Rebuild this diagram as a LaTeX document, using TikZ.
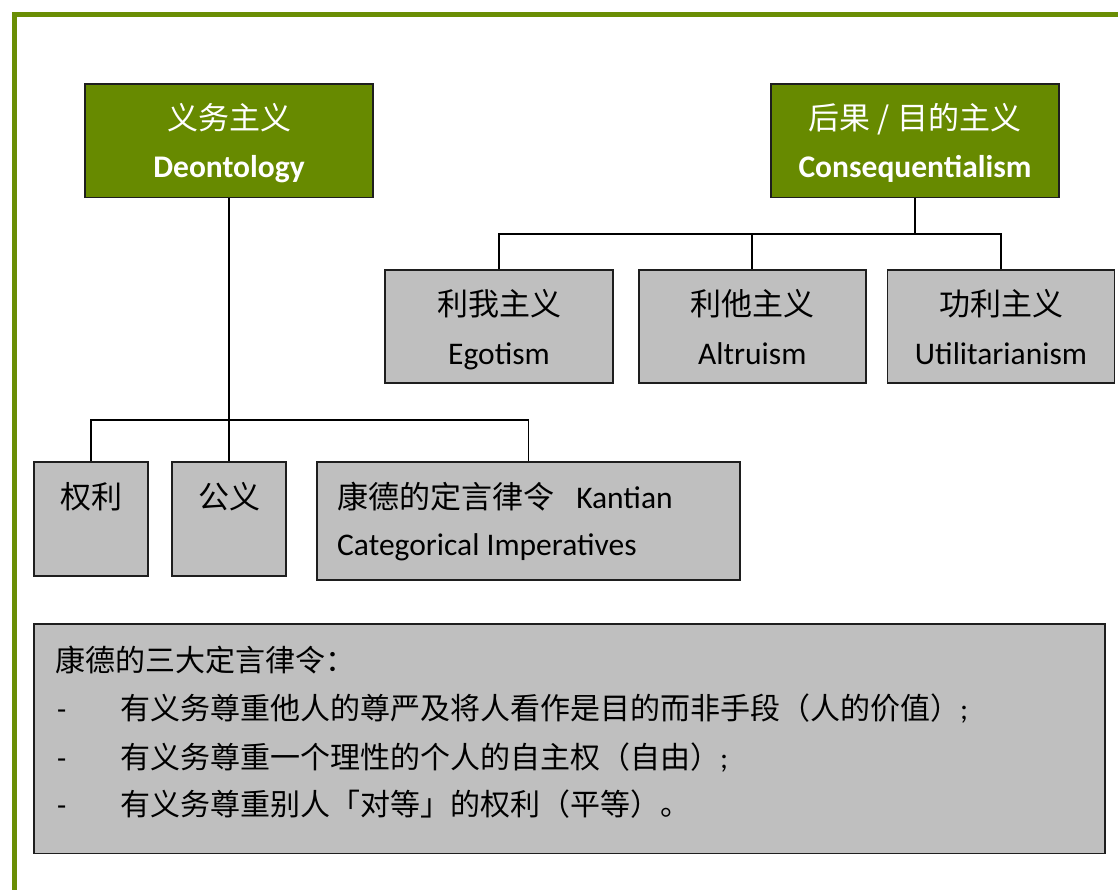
\documentclass[tikz,border=0pt]{standalone}
\usepackage{fontspec}
\setmainfont{Carlito}
\newfontfamily\cjk{Noto Sans CJK SC}
\newfontfamily\latn{Carlito}
\definecolor{olive}{HTML}{678A00}
\definecolor{frameg}{HTML}{6A8E04}
\definecolor{boxgrey}{HTML}{BFBFBF}
\definecolor{edge}{HTML}{1E1E1E}
\tikzset{
  gbox/.style={draw=edge, line width=1.6pt, fill=olive, rectangle, inner sep=0pt},
  greybox/.style={draw=edge, line width=1.6pt, fill=boxgrey, rectangle, inner sep=0pt},
  conn/.style={draw=black, line width=1.7pt},
  cjktxt/.style={font=\cjk\fontsize{31}{37}\selectfont, anchor=base, inner sep=0pt},
  lattxt/.style={font=\fontsize{31.5}{37}\selectfont, anchor=base, inner sep=0pt},
  boldtxt/.style={font=\bfseries\fontsize{31.5}{37}\selectfont, anchor=base, inner sep=0pt, text=white},
  dashtxt/.style={font=\fontsize{30}{36}\selectfont, anchor=base west, inner sep=0pt},
  bodytxt/.style={font=\cjk\fontsize{30}{36}\selectfont, anchor=base west, inner sep=0pt},
}
\begin{document}
\begin{tikzpicture}[x=1pt,y=-1pt]
\useasboundingbox (0,0) rectangle (1118,890);
\begin{scope}
\clip (0,0) rectangle (1118,890);
\draw[frameg, line width=5pt, line join=miter] (14.5,900) -- (14.5,14.5) -- (1130,14.5);
\end{scope}

% top boxes
\node[gbox, minimum width=288pt, minimum height=113.5pt] (deo) at (229,140.75) {};
\node[gbox, minimum width=288pt, minimum height=113.5pt] (cons) at (915,140.75) {};
\node[cjktxt, text=white] (deoc) at (229,129.5) {义务主义};
\node[boldtxt] (deol) at (229,178) {Deontology};
\node[cjktxt, text=white] (consc) at (915,129.5) {后果 / 目的主义};
\node[boldtxt] (consl) at (915,178) {Consequentialism};

% consequentialism children
\node[greybox, minimum width=228pt, minimum height=113.5pt] (ego) at (499,326.5) {};
\node[greybox, minimum width=227pt, minimum height=113.5pt] (alt) at (752.3,326.5) {};
\node[greybox, minimum width=227pt, minimum height=113.5pt] (util) at (1001,326.5) {};
\node[cjktxt] (egoc) at (499,316) {利我主义};
\node[lattxt] (egol) at (499,364) {Egotism};
\node[cjktxt] (altc) at (752.3,316) {利他主义};
\node[lattxt] (altl) at (752.3,364) {Altruism};
\node[cjktxt] (utilc) at (1001,316) {功利主义};
\node[lattxt] (utill) at (1001,364) {Utilitarianism};

% deontology children
\node[greybox, minimum width=114pt, minimum height=114pt] (quanli) at (91,519) {};
\node[greybox, minimum width=114pt, minimum height=114pt] (gongyi) at (229,519) {};
\node[greybox, minimum width=423pt, minimum height=118pt] (kant) at (528.5,521) {};
\node[cjktxt] (quanlit) at (91,508) {权利};
\node[cjktxt] (gongyit) at (229,508) {公义};
\node[lattxt, anchor=base west] (kant1) at (337,508) {{\cjk\fontsize{31}{37}\selectfont 康德的定言律令}\hspace{0.7em}Kantian};
\node[lattxt, anchor=base west] (kant2) at (337,555) {Categorical Imperatives};

% connectors
\draw[conn] (cons.south) -- ++(0,35.5) coordinate (cbus);
\draw[conn] (ego.north) -- (ego.north |- cbus) -- (util.north |- cbus) -- (util.north);
\draw[conn] (alt.north) -- (alt.north |- cbus);
\draw[conn] (deo.south) -- (gongyi.north);
\coordinate (dbus) at (229,420);
\draw[conn] (quanli.north) -- (quanli.north |- dbus) -- (kant.north |- dbus) -- (kant.north);

% bottom box
\node[greybox, minimum width=1071pt, minimum height=229.5pt] (bottom) at (569.5,738.75) {};
\node[bodytxt] (b0) at (55,671) {康德的三大定言律令：};
\node[dashtxt] (d1) at (57,719) {-};
\node[dashtxt] (d2) at (57,768) {-};
\node[dashtxt] (d3) at (57,815) {-};
\node[bodytxt] (b1) at (120,719) {有义务尊重他人的尊严及将人看作是目的而非手段（人的价值）{\latn ;}};
\node[bodytxt] (b2) at (120,768) {有义务尊重一个理性的个人的自主权（自由）{\latn ;}};
\node[bodytxt] (b3) at (120,815) {有义务尊重别人「对等」的权利（平等）。};
\end{tikzpicture}
\end{document}
